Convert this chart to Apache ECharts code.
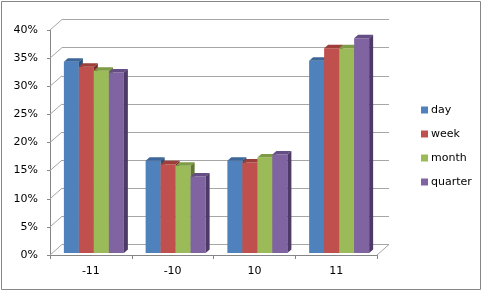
<!DOCTYPE html>
<html>
<head>
<meta charset="utf-8">
<script src="https://cdn.jsdelivr.net/npm/echarts@6/dist/echarts.min.js"></script>
<style>
html,body{margin:0;padding:0;background:#fff;}
#main{width:483px;height:292px;}
</style>
</head>
<body>
<div id="main"></div>
<script>
// ---- data ----
const categories = ['-11', '-10', '10', '11'];
const seriesNames = ['day', 'week', 'month', 'quarter'];
const dayValues = [34.0, 16.4, 16.4, 34.2];
const weekValues = [33.1, 15.8, 16.1, 36.4];
const monthValues = [32.4, 15.5, 17.0, 36.4];
const quarterValues = [32.1, 13.6, 17.5, 38.2];
const yTickValues = [0, 5, 10, 15, 20, 25, 30, 35, 40];

// ---- styles ----
const frontColors = ['#4F81BD', '#C0504D', '#9BBB59', '#8064A2'];
const topColors = ['#3D6699', '#9D3E3B', '#7E9B45', '#654D85'];
const sideColors = ['#2E4F78', '#7A2F2D', '#617833', '#4D3A66'];
const FONT = 'DejaVu Sans';
const DEPTH_DX = 12, DEPTH_DY = 10.5;
const BAR_DX = 4, BAR_DY = 3.5;
const BAR_FRAC = 15 / 81.75;

const allValues = [dayValues, weekValues, monthValues, quarterValues];

function barRender(params, api) {
  const si = params.seriesIndex;
  const cat = api.value(0), val = api.value(1);
  const top = api.coord([cat, val]);
  const base = api.coord([cat, 0]);
  const band = api.size([1, 0])[0];
  const bw = band * BAR_FRAC;
  const x = top[0] - 2 * bw + si * bw;
  const yt = top[1], yb = base[1];
  return {
    type: 'group',
    children: [
      {type: 'rect', shape: {x: x, y: yt, width: bw, height: yb - yt}, style: {fill: frontColors[si]}},
      {type: 'polygon', shape: {points: [[x, yt], [x + BAR_DX, yt - BAR_DY], [x + bw + BAR_DX, yt - BAR_DY], [x + bw, yt]]}, style: {fill: topColors[si]}},
      {type: 'polygon', shape: {points: [[x + bw, yt], [x + bw + BAR_DX, yt - BAR_DY], [x + bw + BAR_DX, yb - BAR_DY], [x + bw, yb]]}, style: {fill: sideColors[si]}}
    ]
  };
}

function diagRender(params, api) {
  const cs = params.coordSys;
  const v = api.value(1);
  const p = api.coord([0, v]);
  const lines = [{type: 'line', shape: {x1: cs.x, y1: p[1], x2: cs.x + DEPTH_DX, y2: p[1] - DEPTH_DY}, style: {stroke: '#a6a6a6', lineWidth: 1}}];
  if (params.dataIndex === 0) {
    lines.push({type: 'line', shape: {x1: cs.x + cs.width, y1: p[1], x2: cs.x + cs.width + DEPTH_DX, y2: p[1] - DEPTH_DY}, style: {stroke: '#a6a6a6', lineWidth: 1}});
  }
  return {type: 'group', children: lines};
}

const series = seriesNames.map((name, i) => ({
  name: name,
  type: 'custom',
  xAxisIndex: 0, yAxisIndex: 0,
  renderItem: barRender,
  itemStyle: {color: frontColors[i]},
  data: allValues[i].map((v, c) => [c, v]),
  z: 5
}));
series.push({
  type: 'custom',
  xAxisIndex: 1, yAxisIndex: 1,
  renderItem: diagRender,
  data: yTickValues.map(v => [0, v]),
  silent: true,
  z: 1
});

const chart = echarts.init(document.getElementById('main'), null, {renderer: 'canvas'});
chart.setOption({
  animation: false,
  backgroundColor: '#fff',
  textStyle: {fontFamily: FONT},
  grid: [
    {left: 53, top: 28, width: 327, height: 225},   // bar plane
    {left: 50, top: 30, width: 327, height: 225},   // front plane
    {left: 62, top: 19.5, width: 327, height: 225}  // back wall
  ],
  xAxis: [
    {gridIndex: 0, type: 'category', data: categories, show: false},
    {gridIndex: 1, type: 'category', data: categories,
      axisLine: {lineStyle: {color: '#868686', width: 1}},
      axisTick: {show: true, length: 4, lineStyle: {color: '#868686'}},
      axisLabel: {color: '#000', fontSize: 11, fontFamily: FONT, margin: 11},
      splitLine: {show: false}},
    {gridIndex: 2, type: 'category', data: categories, show: false}
  ],
  yAxis: [
    {gridIndex: 0, type: 'value', min: 0, max: 40, interval: 5, show: false},
    {gridIndex: 1, type: 'value', min: 0, max: 40, interval: 5,
      axisLine: {show: true, lineStyle: {color: '#868686', width: 1}},
      axisTick: {show: true, length: 3, lineStyle: {color: '#868686'}},
      axisLabel: {color: '#000', fontSize: 11, fontFamily: FONT, margin: 12,
        formatter: v => yTickValues.indexOf(v) >= 0 ? v + '%' : ''},
      splitLine: {show: false}},
    {gridIndex: 2, type: 'value', min: 0, max: 40, interval: 5,
      axisLine: {show: false}, axisTick: {show: false}, axisLabel: {show: false},
      splitLine: {show: true, lineStyle: {color: '#a6a6a6', width: 1}}}
  ],
  legend: {
    orient: 'vertical',
    left: 416, top: 98,
    itemWidth: 7, itemHeight: 7,
    itemGap: 10,
    icon: 'rect',
    data: seriesNames,
    textStyle: {color: '#000', fontSize: 11, fontFamily: FONT, lineHeight: 14, padding: [0, 0, 0, -2]}
  },
  graphic: [
    {type: 'rect', shape: {x: 1.5, y: 1.5, width: 479, height: 288}, style: {fill: null, stroke: '#868686', lineWidth: 1}, z: 100}
  ],
  series: series
});
</script>
</body>
</html>
